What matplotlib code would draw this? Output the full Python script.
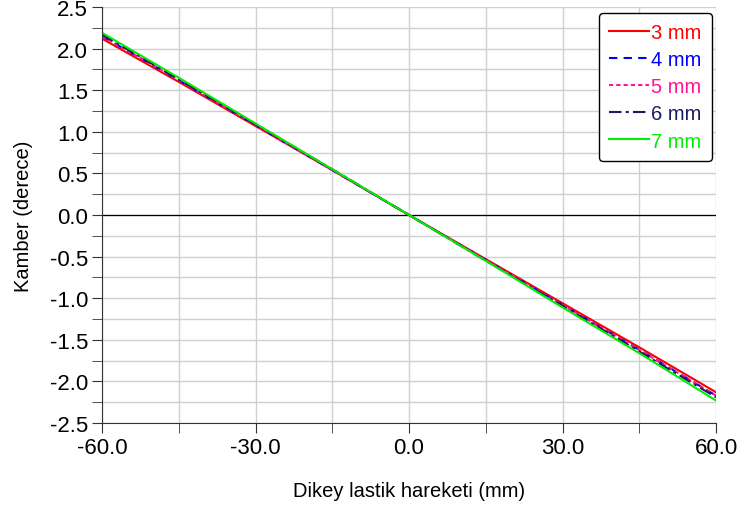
import matplotlib
matplotlib.use("Agg")
import matplotlib.pyplot as plt
import numpy as np
from matplotlib.ticker import MultipleLocator, FormatStrFormatter

plt.rcParams['font.family'] = ['Liberation Sans', 'DejaVu Sans']

x = [-60, -45, -30, -15, 0, 15, 30, 45, 60]
s3 = [2.12, 1.60, 1.07, 0.54, 0.0, -0.53, -1.06, -1.59, -2.13]
s4 = [2.15, 1.62, 1.08, 0.54, 0.0, -0.54, -1.08, -1.62, -2.17]
s5 = [2.15, 1.62, 1.08, 0.54, 0.0, -0.54, -1.08, -1.62, -2.17]
s6 = [2.17, 1.63, 1.09, 0.55, 0.0, -0.55, -1.09, -1.64, -2.19]
s7 = [2.19, 1.65, 1.10, 0.55, 0.0, -0.55, -1.11, -1.66, -2.23]
labels = ['3 mm', '4 mm', '5 mm', '6 mm', '7 mm']
colors = ['#ff0000', '#0000ff', '#ff1493', '#1a1a5e', '#00ee00']
styles = ['-', (0, (4, 3)), (0, (2, 1.5)), (0, (6, 2, 1.5, 2)), '-']

fig = plt.figure(figsize=(7.41, 5.06), dpi=100)
ax = fig.add_axes([102/741, 1-424/506, (716-102)/741, (424-8)/506])

for ys, lab, c, ls in zip([s3, s4, s5, s6, s7], labels, colors, styles):
    ax.plot(x, ys, color=c, linestyle=ls, lw=1.5, label=lab)

ax.axhline(0, color='black', lw=0.9, zorder=1)
ax.set_xlim(-60, 60)
ax.set_ylim(-2.5, 2.5)
ax.set_xticks([-60, -30, 0, 30, 60])
ax.set_xticks([-45, -15, 15, 45], minor=True)
ax.set_yticks(np.arange(-2.5, 2.51, 0.5))
ax.set_yticks(np.arange(-2.25, 2.3, 0.5), minor=True)
ax.xaxis.set_major_formatter(FormatStrFormatter('%.1f'))
ax.yaxis.set_major_formatter(FormatStrFormatter('%.1f'))
ax.grid(True, which='both', color='#d0d0d0', lw=1)
ax.set_axisbelow(True)
for side in ['top', 'right']:
    ax.spines[side].set_visible(False)
for side in ['left', 'bottom']:
    ax.spines[side].set_color('#333333')
ax.tick_params(which='both', direction='out', length=7, color='#333333', labelsize=16)
ax.tick_params(axis='x', pad=3)
ax.tick_params(axis='y', pad=3)
ax.set_xlabel('Dikey lastik hareketi (mm)', fontsize=14.5, labelpad=17)
ax.set_ylabel('Kamber (derece)', fontsize=14.5, labelpad=12)

leg = ax.legend(loc='upper right', fontsize=14.5, frameon=True, fancybox=True,
                edgecolor='black', framealpha=1, handlelength=2.0, handletextpad=0.1,
                borderpad=0.5, labelspacing=0.4, bbox_to_anchor=(0.993, 0.985),
                borderaxespad=0)
leg.get_frame().set_linewidth(1.0)
for t, c in zip(leg.get_texts(), colors):
    t.set_color(c)

fig.savefig('out.png', dpi=100)
